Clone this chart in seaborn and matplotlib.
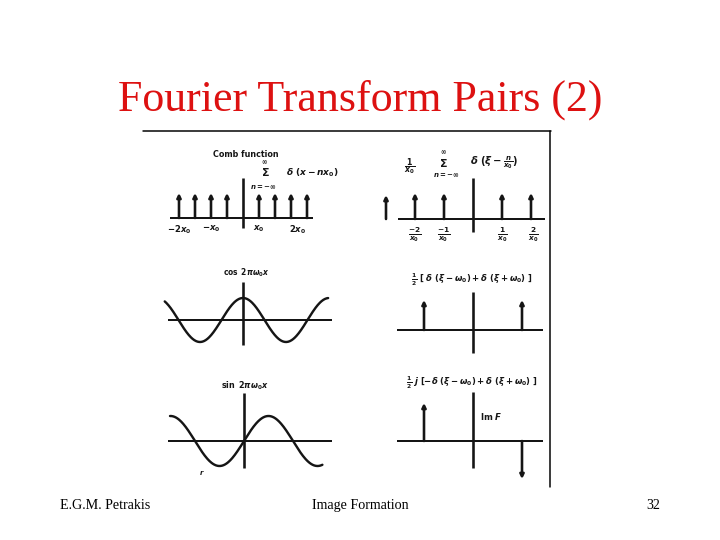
import numpy as np
import matplotlib.pyplot as plt
from matplotlib.lines import Line2D
import seaborn as sns

# slide text
title = "Fourier Transform Pairs (2)"
footer_left = "E.G.M. Petrakis"
footer_mid = "Image Formation"
footer_right = "32"

# comb function (spatial domain), impulse positions as drawn in the scan
comb_x = [-4, -3, -2, -1, 1, 2, 3, 4]
comb_h = [1, 1, 1, 1, 1, 1, 1, 1]
comb_tick_pos = [-4, -2, 1, 3.4]
comb_tick_lab = [r"$-2x_0$", r"$-x_0$", r"$x_0$", r"$2x_0$"]

# transform of the comb (impulses at n/x0), plus the cut-off one at the left edge
fcomb_x = [-3, -2, -1, 1, 2]
fcomb_h = [0.92, 1, 1, 1, 1]
fcomb_tick_pos = [-2, -1, 1, 2.07]
fcomb_tick_lab = [r"$\frac{-2}{x_0}$", r"$\frac{-1}{x_0}$", r"$\frac{1}{x_0}$", r"$\frac{2}{x_0}$"]

# cos / sin, x measured in periods
cos_span = (-0.91, 0.99)
sin_span = (-0.755, 0.80)

# transforms of cos (real) and sin (imaginary part), impulses at -w0, +w0
fcos_x = [-1, 1]
fcos_h = [0.5, 0.5]
fsin_x = [-1, 1]
fsin_h = [0.5, -0.5]

W, H = 720, 540
ink = "#151515"

sns.set_theme(style="white")
plt.rcParams["font.family"] = ["DejaVu Sans"]
# scanned labels are heavy, so use bold glyphs in mathtext too
plt.rcParams["mathtext.fontset"] = "custom"
plt.rcParams["mathtext.rm"] = "DejaVu Sans:bold"
plt.rcParams["mathtext.it"] = "DejaVu Sans:italic:bold"
plt.rcParams["mathtext.bf"] = "DejaVu Sans:bold"
plt.rcParams["mathtext.sf"] = "DejaVu Sans:bold"

fig = plt.figure(figsize=(W / 72, H / 72), dpi=72, facecolor="white")


def panel(cx, cy, sx, sy, box):
    # axes whose data origin sits at pixel (cx, cy)
    l, t, r, b = box
    ax = fig.add_axes([l / W, 1 - b / H, (r - l) / W, (b - t) / H])
    ax.set_xlim((l - cx) / sx, (r - cx) / sx)
    ax.set_ylim((cy - b) / sy, (cy - t) / sy)
    ax.axis("off")
    return ax


def axes_lines(ax, xr, yr, lw=2.0):
    ax.plot(xr, [0, 0], color=ink, lw=lw, solid_capstyle="butt")
    ax.plot([0, 0], yr, color=ink, lw=lw + 0.6, solid_capstyle="butt")


def stems(ax, xs, hs, lw=2.6):
    for x, h in zip(xs, hs):
        ax.annotate("", xy=(x, h), xytext=(x, 0),
                    arrowprops=dict(arrowstyle="-|>", lw=lw, color=ink,
                                    mutation_scale=8, shrinkA=0, shrinkB=0))


def ptext(x, y, s, size=8, **kw):
    fig.text(x / W, 1 - y / H, s, fontsize=size, color=ink,
             ha=kw.pop("ha", "center"), va=kw.pop("va", "center"),
             fontweight=kw.pop("fontweight", "bold"), **kw)


# comb function
ax = panel(243, 218, 16, 25, (150, 140, 360, 248))
axes_lines(ax, [-4.56, 4.375], [-0.4, 1.6])
stems(ax, comb_x, comb_h)
for p, s in zip(comb_tick_pos, comb_tick_lab):
    ax.text(p, -0.45, s, ha="center", va="center", fontsize=8.5, color=ink)
ptext(246, 155, "Comb function", size=8)
ptext(264, 162, r"$\infty$", size=6.5)
ptext(265, 172, r"$\Sigma$", size=11)
ptext(263, 187, r"$n=-\infty$", size=7)
ptext(312, 173, r"$\delta\ (x - nx_0)$", size=9)

# its transform
ax = panel(473, 219, 29, 26, (375, 140, 552, 248))
axes_lines(ax, [-2.59, 2.48], [-0.5, 1.58])
stems(ax, fcomb_x, fcomb_h)
for p, s in zip(fcomb_tick_pos, fcomb_tick_lab):
    ax.text(p, -0.62, s, ha="center", va="center", fontsize=10.5, color=ink)
ptext(410, 167, r"$\frac{1}{x_0}$", size=11)
ptext(443, 152, r"$\infty$", size=6.5)
ptext(443, 163, r"$\Sigma$", size=11)
ptext(446, 175, r"$n=-\infty$", size=7)
ptext(494, 163, r"$\delta\ (\xi - \frac{n}{x_0})$", size=10)

# cosine
ax = panel(243, 320, 86, 22, (150, 255, 360, 355))
axes_lines(ax, [-0.87, 1.03], [-1.14, 1.73])
xc = np.linspace(cos_span[0], cos_span[1], 300)
sns.lineplot(x=xc, y=np.cos(2 * np.pi * xc), ax=ax, color=ink, lw=2.4)
ptext(246, 273, r"$\cos\ 2\pi\omega_0 x$", size=7.5)

# transform of cosine
ax = panel(473, 330, 49, 60, (380, 255, 552, 360))
axes_lines(ax, [-1.55, 1.43], [-0.38, 0.63])
stems(ax, fcos_x, fcos_h)
ptext(472, 280, r"$\frac{1}{2}\ [\ \delta\ (\xi - \omega_0) + \delta\ (\xi + \omega_0)\ ]$", size=8.5)

# sine
ax = panel(244, 441, 98, 25, (150, 370, 360, 485))
axes_lines(ax, [-0.78, 0.90], [-1.08, 1.92])
xs = np.linspace(sin_span[0], sin_span[1], 300)
sns.lineplot(x=xs, y=np.sin(2 * np.pi * xs), ax=ax, color=ink, lw=2.4)
ptext(245, 386, r"$\sin\ 2\pi\omega_0 x$", size=8)
ptext(202, 473, "r", size=7, style="italic")

# transform of sine (imaginary part)
ax = panel(473, 441, 49, 76, (380, 370, 552, 485))
axes_lines(ax, [-1.55, 1.43], [-0.36, 0.64])
stems(ax, fsin_x, fsin_h)
ptext(472, 383, r"$\frac{1}{2}\ j\ [-\delta\ (\xi - \omega_0) + \delta\ (\xi + \omega_0)\ ]$", size=8.5)
ptext(480, 417, r"Im $F$", size=8.5, ha="left")

# frame of the scanned figure
fig.add_artist(Line2D([143 / W, 551 / W], [1 - 131 / H, 1 - 131 / H], color="black", lw=1.5))
fig.add_artist(Line2D([550 / W, 550 / W], [1 - 131 / H, 1 - 487 / H], color="black", lw=1.5))

# slide text
fig.text(360 / W, 1 - 111 / H, title, fontsize=44, color="#dd1111",
         family="Liberation Serif", ha="center", va="baseline")
fig.text(60 / W, 1 - 509 / H, footer_left, fontsize=14, color="black",
         family="Liberation Serif", ha="left", va="baseline")
fig.text(360 / W, 1 - 509 / H, footer_mid, fontsize=14, color="black",
         family="Liberation Serif", ha="center", va="baseline")
fig.text(660 / W, 1 - 509 / H, footer_right, fontsize=14, color="black",
         family="Liberation Serif", ha="right", va="baseline")

plt.savefig("out.png", dpi=72, facecolor="white")
